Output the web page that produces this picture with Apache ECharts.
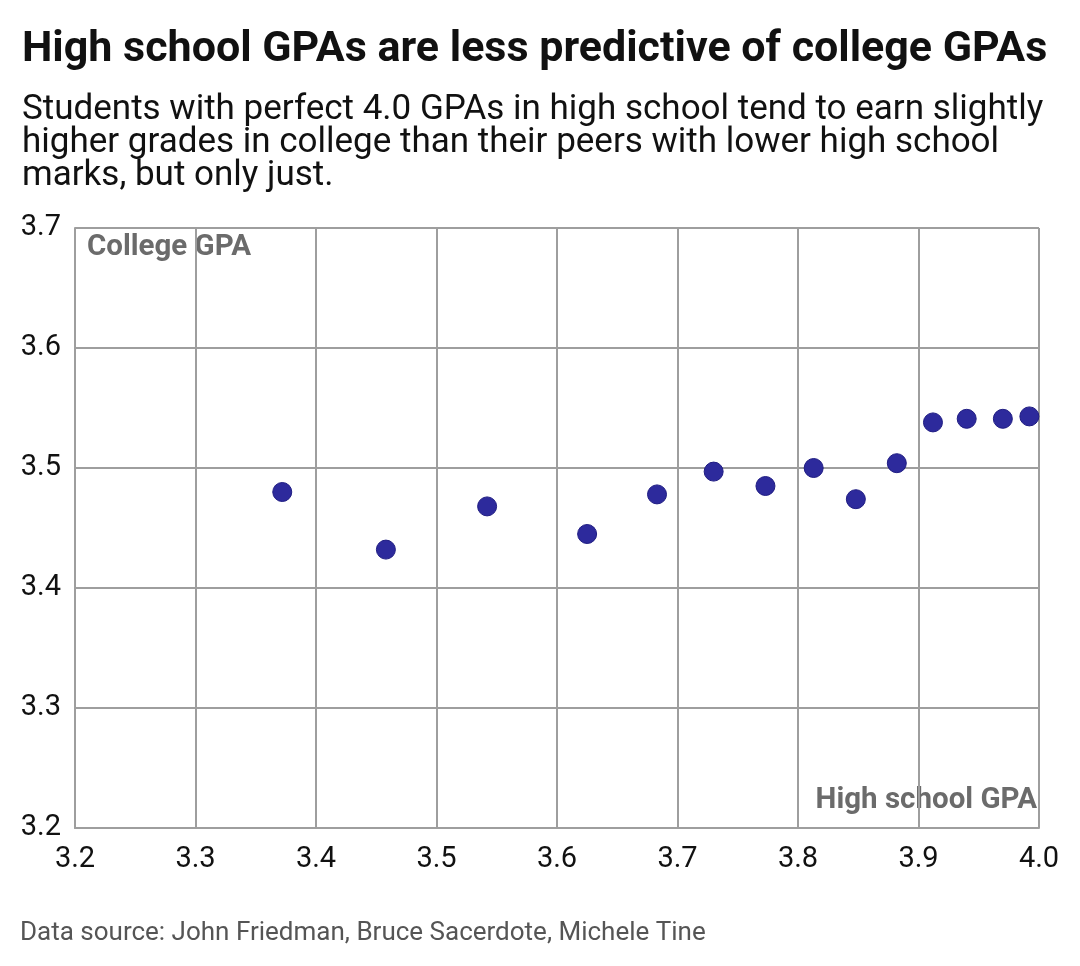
<!DOCTYPE html>
<html>
  <head>
    <meta charset="utf-8">
    <script src="https://cdn.jsdelivr.net/npm/echarts@6/dist/echarts.min.js"></script>
    <style>
      html, body { margin: 0; padding: 0; background: #fff; }
      #chart { width: 1080px; height: 966px; }
    </style>
  </head>
  <body>
    <div id="chart"></div>
    <script>
      // high school GPA (x) vs college GPA (y)
      const hsGpa = [3.372, 3.458, 3.542, 3.625, 3.683, 3.730, 3.773, 3.813, 3.848, 3.882, 3.912, 3.940, 3.970, 3.992];
      const collegeGpa = [3.480, 3.432, 3.468, 3.445, 3.478, 3.497, 3.485, 3.500, 3.474, 3.504, 3.538, 3.541, 3.541, 3.543];
      const xTicks = [3.2, 3.3, 3.4, 3.5, 3.6, 3.7, 3.8, 3.9, 4.0];
      const yTicks = [3.2, 3.3, 3.4, 3.5, 3.6, 3.7];

      const points = hsGpa.map((x, i) => [x, collegeGpa[i]]);
      const font = 'Roboto, "Noto Sans", sans-serif';

      const chart = echarts.init(document.getElementById('chart'), null, { renderer: 'canvas' });
      chart.setOption({
        animation: false,
        textStyle: { fontFamily: font },
        title: {
          text: 'High school GPAs are less predictive of college GPAs',
          subtext: 'Students with perfect 4.0 GPAs in high school tend to earn slightly\nhigher grades in college than their peers with lower high school\nmarks, but only just.',
          left: 17,
          top: 24,
          itemGap: 22,
          textStyle: { fontFamily: font, fontSize: 43, fontWeight: 'bold', color: '#111' },
          subtextStyle: { fontFamily: font, fontSize: 35, color: '#111', lineHeight: 33 }
        },
        grid: { left: 75, right: 41, top: 228, bottom: 138 },
        xAxis: {
          type: 'value',
          min: xTicks[0],
          max: xTicks[xTicks.length - 1],
          interval: 0.1,
          axisLine: { show: true, lineStyle: { color: '#9e9e9e', width: 2 } },
          axisTick: { show: false },
          splitLine: { show: true, lineStyle: { color: '#9e9e9e', width: 2 } },
          axisLabel: {
            color: '#111', fontSize: 29, fontFamily: font, margin: 17,
            formatter: v => v.toFixed(1)
          }
        },
        yAxis: {
          type: 'value',
          min: yTicks[0],
          max: yTicks[yTicks.length - 1],
          interval: 0.1,
          axisLine: { show: true, lineStyle: { color: '#9e9e9e', width: 2 } },
          axisTick: { show: false },
          splitLine: { show: true, lineStyle: { color: '#9e9e9e', width: 2 } },
          axisLabel: {
            color: '#111', fontSize: 29, fontFamily: font, margin: 14,
            formatter: v => v.toFixed(1)
          }
        },
        series: [{
          type: 'scatter',
          data: points,
          symbolSize: 19,
          itemStyle: { color: '#2d2a9c', borderColor: '#1f1c82', borderWidth: 1, opacity: 1 }
        }],
        graphic: [
          {
            type: 'text', left: 87, top: 233,
            style: { text: 'College GPA', fontFamily: font, fontSize: 29.5, fontWeight: 'bold', fill: '#6b6b6b' }
          },
          {
            type: 'text', right: 43, top: 786,
            style: { text: 'High school GPA', fontFamily: font, fontSize: 29.5, fontWeight: 'bold', fill: '#6b6b6b' }
          },
          {
            type: 'text', left: 20, top: 920,
            style: { text: 'Data source: John Friedman, Bruce Sacerdote, Michele Tine', fontFamily: font, fontSize: 26, fill: '#555' }
          }
        ]
      });
    </script>
  </body>
</html>
